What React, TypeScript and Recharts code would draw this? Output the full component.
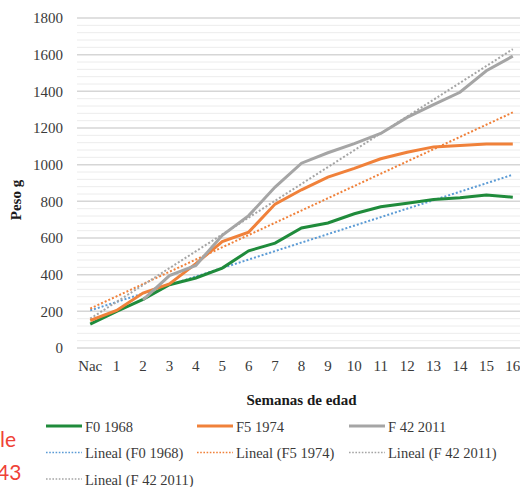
import React from 'react';
import { LineChart, Line, XAxis, YAxis, CartesianGrid, ReferenceLine } from 'recharts';

const categories = ['Nac', '1', '2', '3', '4', '5', '6', '7', '8', '9', '10', '11', '12', '13', '14', '15', '16'];
const f0Values = [130, 200, 265, 345, 382, 436, 530, 572, 655, 682, 732, 770, 790, 810, 820, 835, 822];
const f5Values = [150, 205, 300, 350, 460, 580, 632, 785, 863, 932, 980, 1032, 1068, 1097, 1105, 1113, 1113];
const f42Values = [null, null, 262, 395, 450, 615, 722, 878, 1008, 1065, 1115, 1170, 1258, 1328, 1395, 1512, 1592];
const trendF0 = [205, null, null, null, null, null, null, null, null, null, null, null, null, null, null, null, 945];
const trendF5 = [215, null, null, null, null, null, null, null, null, null, null, null, null, null, null, null, 1285];
const trendF42 = [160, null, null, null, null, null, null, null, null, null, null, null, null, null, null, null, 1630];

const yTicks = [0, 200, 400, 600, 800, 1000, 1200, 1400, 1600, 1800];
const minorTicks = [40, 80, 120, 160, 240, 280, 320, 360, 440, 480, 520, 560, 640, 680, 720, 760, 840, 880, 920, 960,
  1040, 1080, 1120, 1160, 1240, 1280, 1320, 1360, 1440, 1480, 1520, 1560, 1640, 1680, 1720, 1760];

const legendItems = [
  { label: 'F0 1968', color: '#1f8b3b', dotted: false },
  { label: 'F5 1974', color: '#f0813a', dotted: false },
  { label: 'F 42 2011', color: '#a5a5a5', dotted: false },
  { label: 'Lineal (F0 1968)', color: '#5b9bd5', dotted: true },
  { label: 'Lineal (F5 1974)', color: '#f0813a', dotted: true },
  { label: 'Lineal (F 42 2011)', color: '#a5a5a5', dotted: true },
  { label: 'Lineal (F 42 2011)', color: '#a5a5a5', dotted: true },
];

const data = categories.map((c, i) => ({
  week: c,
  f0: f0Values[i],
  f5: f5Values[i],
  f42: f42Values[i],
  t0: trendF0[i],
  t5: trendF5[i],
  t42: trendF42[i],
}));

const serif = '"Liberation Serif", serif';
const tickStyle = { fontFamily: serif, fontSize: 15, fill: '#3a3a3a' };

const colX = [46, 197, 349];
const rowBase = [431.5, 458, 484.5];

export default function App() {
  return (
    <div style={{ position: 'fixed', left: 0, top: 0, width: 520, height: 487, overflow: 'hidden', background: '#fff' }}>
      <LineChart width={540} height={487} data={data} margin={{ top: 18, right: 14, left: 0, bottom: 82 }}>
        {minorTicks.map((v) => (
          <ReferenceLine key={v} y={v} stroke="#ececec" strokeWidth={1} ifOverflow="extendDomain" />
        ))}
        <CartesianGrid vertical={false} stroke="#d6d6d6" strokeWidth={1.5} />
        <XAxis
          dataKey="week"
          scale="band"
          axisLine={false}
          tickLine={false}
          tickMargin={6}
          interval={0}
          height={57}
          tick={tickStyle}
          label={{ value: 'Semanas de edad', position: 'insideBottom', offset: 0, style: { fontFamily: serif, fontSize: 15, fontWeight: 700, fill: '#1a1a1a' } }}
        />
        <YAxis
          domain={[0, 1800]}
          ticks={yTicks}
          width={77}
          axisLine={false}
          tickLine={false}
          tickMargin={8}
          tick={tickStyle}
          label={{
            content: () => (
              <text x={16} y={200} transform="rotate(-90, 16, 200)" textAnchor="middle" dominantBaseline="central"
                style={{ fontFamily: serif, fontSize: 15, fontWeight: 700, fill: '#1a1a1a' }}>Peso g</text>
            ),
          }}
        />
        <Line dataKey="t0" stroke="#5b9bd5" strokeWidth={2} strokeDasharray="2 2" dot={false} connectNulls isAnimationActive={false} />
        <Line dataKey="t5" stroke="#f0813a" strokeWidth={2} strokeDasharray="2 2" dot={false} connectNulls isAnimationActive={false} />
        <Line dataKey="t42" stroke="#a5a5a5" strokeWidth={2} strokeDasharray="2 2" dot={false} connectNulls isAnimationActive={false} />
        <Line dataKey="f0" stroke="#1f8b3b" strokeWidth={3} dot={false} isAnimationActive={false} />
        <Line dataKey="f5" stroke="#f0813a" strokeWidth={3} dot={false} isAnimationActive={false} />
        <Line dataKey="f42" stroke="#a5a5a5" strokeWidth={3} dot={false} isAnimationActive={false} />
      </LineChart>
      <svg width={520} height={487} style={{ position: 'absolute', left: 0, top: 0, pointerEvents: 'none' }}>
        {legendItems.map((it, i) => {
          const col = i % 3;
          const row = Math.floor(i / 3);
          const x = colX[col];
          const base = rowBase[row];
          const ly = base - 5.5;
          return (
            <g key={i}>
              <line x1={x} x2={x + 36} y1={ly} y2={ly} stroke={it.color}
                strokeWidth={it.dotted ? 1.6 : 3} strokeDasharray={it.dotted ? '1.6 1.6' : undefined} />
              <text x={x + 39} y={base} style={{ fontFamily: serif, fontSize: 14.5, fill: '#3a3a3a' }}>{it.label}</text>
            </g>
          );
        })}
        <text x={0} y={447} style={{ fontFamily: 'Lato, sans-serif', fontSize: 21, fill: '#ef4136' }}>le</text>
        <text x={-3} y={480} style={{ fontFamily: 'Lato, sans-serif', fontSize: 21, fill: '#ef4136' }}>43</text>
      </svg>
    </div>
  );
}
